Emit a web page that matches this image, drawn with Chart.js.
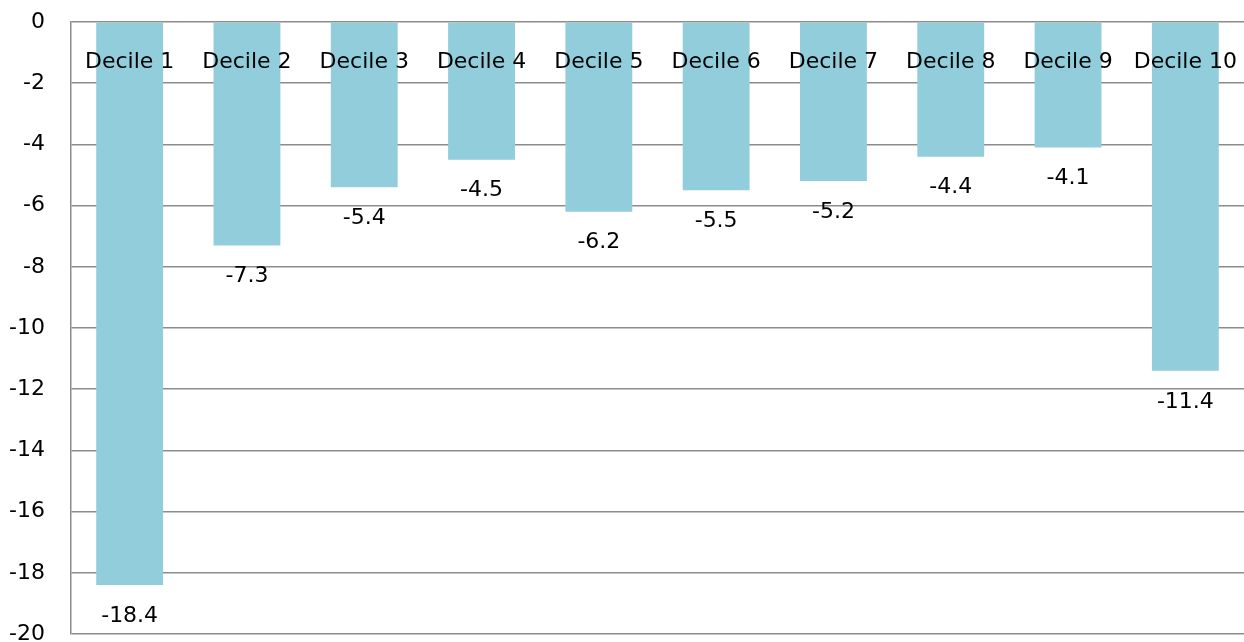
<!doctype html>
<html lang="en">
  <head>
    <title>Decile change</title>
    <style>
      html, body { margin: 0; padding: 0; background: #fff; }
      #wrap { width: 1244px; height: 642px; }
    </style>
  </head>
  <body>
    <div id="wrap"><canvas id="deciles"></canvas></div>
    <script src="https://cdn.jsdelivr.net/npm/chart.js"></script>
    <script>
      const deciles = ['Decile 1', 'Decile 2', 'Decile 3', 'Decile 4', 'Decile 5',
                       'Decile 6', 'Decile 7', 'Decile 8', 'Decile 9', 'Decile 10'];
      const change = [-18.4, -7.3, -5.4, -4.5, -6.2, -5.5, -5.2, -4.4, -4.1, -11.4];
      const yMin = -20;
      const yMax = 0;
      const yStep = 2;

      const font = { family: "'DejaVu Sans', 'Liberation Sans', sans-serif", size: 22 };

      // category names sit just under the zero line, values just below each bar
      const labelPlugin = {
        id: 'barLabels',
        afterDatasetsDraw(chart) {
          const c = chart.ctx;
          const x = chart.scales.x;
          const y = chart.scales.y;
          c.save();
          c.fillStyle = '#000';
          c.font = font.size + 'px ' + font.family;
          c.textAlign = 'center';
          c.textBaseline = 'middle';
          deciles.forEach((name, i) => {
            const px = x.getPixelForValue(i);
            c.fillText(name, px, y.getPixelForValue(0) + 40);
            c.fillText(change[i].toFixed(1), px, y.getPixelForValue(change[i]) + 31);
          });
          c.restore();
        }
      };

      new Chart(document.getElementById('deciles'), {
        type: 'bar',
        data: {
          labels: deciles,
          datasets: [{
            data: change,
            backgroundColor: '#92CDDC',
            borderWidth: 0,
            categoryPercentage: 1,
            barPercentage: 0.57
          }]
        },
        options: {
          responsive: true,
          maintainAspectRatio: false,
          animation: false,
          layout: { padding: 0 },
          plugins: { legend: { display: false }, tooltip: { enabled: false } },
          scales: {
            x: {
              display: false
            },
            y: {
              min: yMin,
              max: yMax,
              afterFit(scale) {
                scale.width = 71;
                scale.paddingTop = 22;
                scale.paddingBottom = 8;
              },
              ticks: {
                stepSize: yStep,
                color: '#000',
                font: font,
                padding: 26
              },
              grid: { color: '#8c8c8c', lineWidth: 1.5, drawTicks: false, z: -1 },
              border: { display: true, color: '#8c8c8c', width: 1.5 }
            }
          }
        },
        plugins: [labelPlugin]
      });
    </script>
  </body>
</html>
